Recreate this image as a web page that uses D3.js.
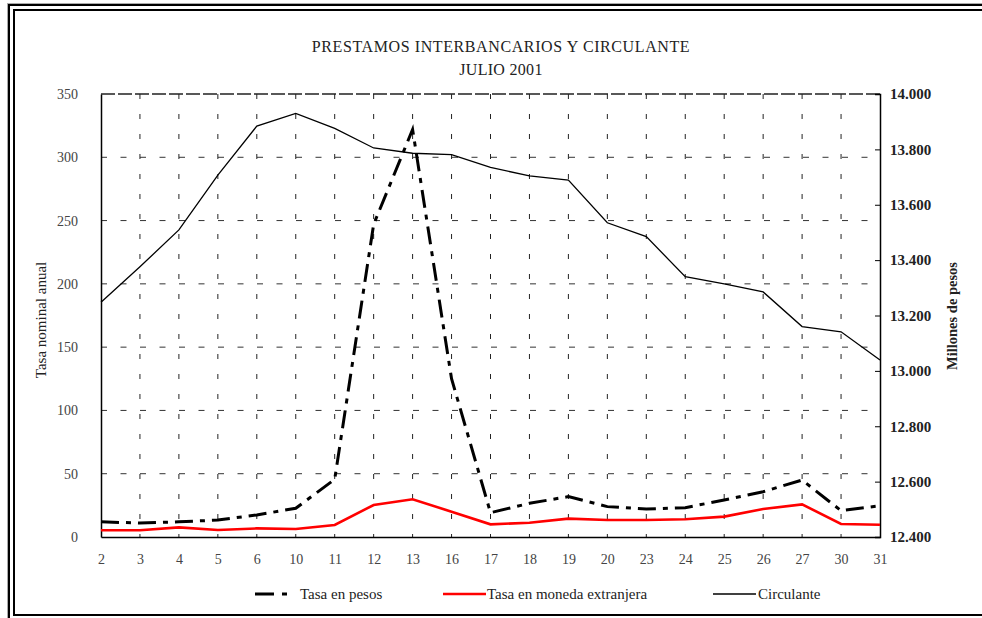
<!DOCTYPE html>
<html><head><meta charset="utf-8">
<script src="https://cdn.jsdelivr.net/npm/d3@7"></script>
<style>body{margin:0;background:#fff}svg{display:block}
svg text{font-family:"Liberation Serif","Times New Roman",Times,Tinos,"DejaVu Serif","Noto Serif",serif !important}</style>
</head><body>
<script>
const categories = ["2","3","4","5","6","10","11","12","13","16","17","18","19","20","23","24","25","26","27","30","31"];
const tasaPesos = [12,11,12,13.4,17.4,22.7,45.6,247,322,125,19.2,26.6,31.9,24,22.1,23.2,29.2,35.8,45,20.8,24.7];
const tasaExtranjera = [5.3,5.3,7.6,5.5,6.8,6.3,9.5,25.3,29.8,20,10,11.3,14.5,13.4,13.4,14,16.1,22.1,25.8,10.3,9.7];
const circulante = [13248,13376,13509,13707,13884,13930,13876,13805,13786,13781,13735,13704,13689,13535,13485,13340,13314,13285,13160,13141,13039];
const leftTicks = [0,50,100,150,200,250,300,350];
const rightTicks = [12400,12600,12800,13000,13200,13400,13600,13800,14000];
const seriesNames = ["Tasa en pesos","Tasa en moneda extranjera","Circulante"];
const titleLines = ["PRESTAMOS INTERBANCARIOS Y CIRCULANTE","JULIO 2001"];

const W=982,H=618;
const svg=d3.select("body").append("svg").attr("width",W).attr("height",H);
// frame
svg.append("line").attr("x1",7).attr("y1",3.5).attr("x2",W).attr("y2",3.5).attr("stroke","#aaa").attr("stroke-width",1);
svg.append("line").attr("x1",7.5).attr("y1",3).attr("x2",7.5).attr("y2",H).attr("stroke","#aaa").attr("stroke-width",1);
svg.append("path").attr("d",`M9,${H} V5 H${W}`).attr("fill","none").attr("stroke","#000").attr("stroke-width",2);
svg.append("path").attr("d",`M${W},615 H14 V10 H${W}`).attr("fill","none").attr("stroke","#000").attr("stroke-width",2);

const L=101,R=880,T=94,B=537;
const x=d3.scalePoint().domain(categories).range([L,R]).padding(0);
const yL=d3.scaleLinear().domain([0,350]).range([B,T]);
const yR=d3.scaleLinear().domain([12400,14000]).range([B,T]);

// title
svg.selectAll("text.title").data(titleLines).join("text").attr("class","title")
 .attr("x",501).attr("y",(d,i)=>52+i*23).attr("text-anchor","middle")
 .attr("font-size",16).attr("letter-spacing",(d,i)=>i===0?0.6:0.3).attr("fill","#222").text(d=>d);

// gridlines
const g=svg.append("g");
g.selectAll("line.h").data(leftTicks.filter(v=>v>0&&v<350)).join("line")
 .attr("x1",L).attr("x2",R).attr("y1",d=>yL(d)).attr("y2",d=>yL(d))
 .attr("stroke","#333").attr("stroke-width",1).attr("stroke-dasharray","6,13.5");
g.append("line").attr("x1",L).attr("x2",R).attr("y1",yL(350)).attr("y2",yL(350))
 .attr("stroke","#222").attr("stroke-width",1.4).attr("stroke-dasharray","14,3");
g.selectAll("line.v").data(categories.slice(1,-1)).join("line")
 .attr("x1",d=>x(d)).attr("x2",d=>x(d)).attr("y1",T).attr("y2",B)
 .attr("stroke","#222").attr("stroke-width",1).attr("stroke-dasharray","5,15");

// axes
const axL=d3.axisLeft(yL).tickValues(leftTicks).tickSize(0).tickPadding(23).tickFormat(d3.format("d"));
const gl=svg.append("g").attr("transform",`translate(${L},0)`).call(axL);
gl.select(".domain").attr("stroke","#000").attr("stroke-width",1.5);
gl.selectAll("text").attr("font-size",14).attr("fill","#444");

const axR=d3.axisRight(yR).tickValues(rightTicks).tickSize(-5).tickPadding(10).tickFormat(d=>d3.format(",")(d).replace(",","."));
const gr=svg.append("g").attr("transform",`translate(${R},0)`).call(axR);
gr.select(".domain").attr("stroke","#000").attr("stroke-width",1.5);
gr.selectAll(".tick line").attr("stroke","#000");
gr.selectAll("text").attr("font-size",15).attr("font-weight","bold").attr("fill","#222");

const axB=d3.axisBottom(x).tickSize(0).tickPadding(17);
const gb=svg.append("g").attr("transform",`translate(0,${B})`).call(axB);
gb.select(".domain").attr("stroke","#000").attr("stroke-width",1.5);
gb.selectAll("text").attr("font-size",14).attr("fill","#444");

// axis titles
svg.append("text").attr("transform","translate(46,320) rotate(-90)").attr("text-anchor","middle")
 .attr("font-size",15).attr("fill","#222").text("Tasa nominal anual");
svg.append("text").attr("transform","translate(957,316) rotate(-90)").attr("text-anchor","middle")
 .attr("font-size",14.5).attr("font-weight","bold").attr("fill","#222").text("Millones de pesos");

// lines
const lineL=d3.line().x((d,i)=>x(categories[i])).y(d=>yL(d));
const lineR=d3.line().x((d,i)=>x(categories[i])).y(d=>yR(d));
svg.append("path").attr("d",lineR(circulante)).attr("fill","none").attr("stroke","#000").attr("stroke-width",1.3);
svg.append("path").attr("d",lineL(tasaExtranjera)).attr("fill","none").attr("stroke","#ff0000").attr("stroke-width",2.6);
svg.append("path").attr("d",lineL(tasaPesos)).attr("fill","none").attr("stroke","#000").attr("stroke-width",3).attr("stroke-dasharray","18,7,5,7");

// legend
const ly=594;
const leg=svg.append("g");
leg.append("line").attr("x1",255).attr("x2",290).attr("y1",ly).attr("y2",ly).attr("stroke","#000").attr("stroke-width",3).attr("stroke-dasharray","19,8,5,20");
leg.append("text").attr("x",300).attr("y",ly+5).attr("font-size",15).attr("fill","#222").text(seriesNames[0]);
leg.append("line").attr("x1",443).attr("x2",486).attr("y1",ly).attr("y2",ly).attr("stroke","#ff0000").attr("stroke-width",2.6);
leg.append("text").attr("x",487).attr("y",ly+5).attr("font-size",15).attr("fill","#222").text(seriesNames[1]);
leg.append("line").attr("x1",713).attr("x2",756).attr("y1",ly).attr("y2",ly).attr("stroke","#000").attr("stroke-width",1.3);
leg.append("text").attr("x",758).attr("y",ly+5).attr("font-size",15).attr("fill","#222").text(seriesNames[2]);
</script>
</body></html>
